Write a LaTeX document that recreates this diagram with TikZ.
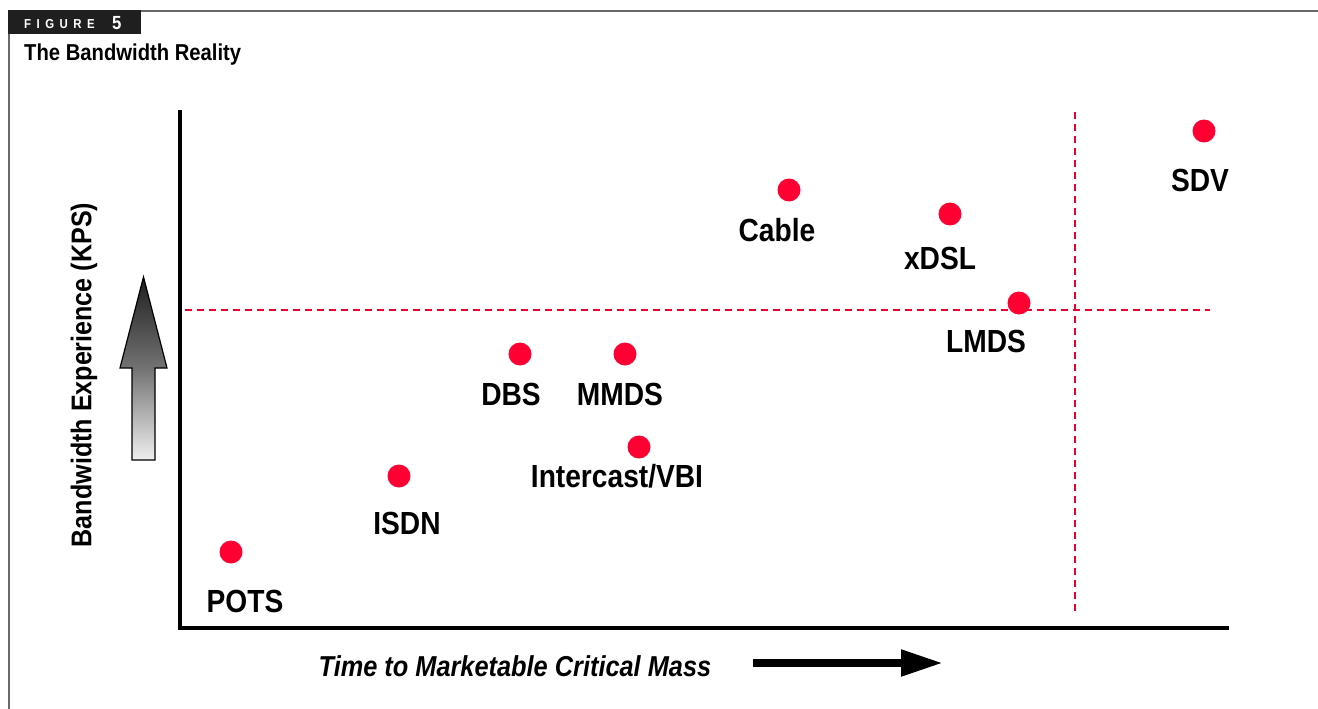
\documentclass[tikz,border=0pt]{standalone}
\usepackage{fontspec}
\setmainfont{Liberation Sans}[FakeStretch=0.88]
\usetikzlibrary{arrows.meta}
\definecolor{dotred}{RGB}{255,0,51}
\definecolor{dashred}{RGB}{235,0,46}
\definecolor{framegray}{RGB}{105,105,105}
\tikzset{
  dot/.style={circle, fill=dotred, draw=none, minimum size=23pt, inner sep=0pt},
  tag/.style={font=\fontsize{32}{32}\selectfont\bfseries, inner sep=0pt, anchor=base},
  axisline/.style={line width=4pt, line cap=rect},
  guide/.style={draw=dashred, line width=1.8pt, dash pattern=on 7pt off 5pt},
}
\begin{document}
\begin{tikzpicture}[x=1pt, y=-1pt]
\useasboundingbox (0,0) rectangle (1318,709);
\fill[white] (0,0) rectangle (1318,709);

% frame and caption tab
\draw[framegray, line width=2pt] (141,11) -- (1318,11);
\draw[framegray, line width=2pt] (9,34) -- (9,709);
\fill[black!88] (8,10) rectangle (141,34);
\node[anchor=base west, inner sep=0pt, text=white, font=\fontsize{13}{13}\selectfont\bfseries\addfontfeatures{LetterSpace=42}]
  (figword) at (24,29) {FIGURE};
\node[anchor=base west, inner sep=0pt, text=white, font=\fontsize{19}{19}\selectfont\bfseries]
  (fignum) at (112,30) {5};
\node[anchor=base west, inner sep=0pt, font=\fontsize{23}{23}\selectfont\bfseries]
  (title) at (24,61) {The Bandwidth Reality};

% axes
\coordinate (top) at (180,112);
\coordinate (origin) at (180,628);
\coordinate (right) at (1227,628);
\draw[axisline] (top) -- (origin) -- (right);

% guide lines
\coordinate (hl) at (185,310);
\coordinate (hr) at (1210,310);
\coordinate (vt) at (1075,112);
\coordinate (vb) at (1075,614);
\draw[guide] (hl) -- (hr);
\draw[guide] (vt) -- (vb);

% axis titles
\node[rotate=90, inner sep=0pt, font=\fontsize{28.5}{28.5}\selectfont\bfseries] (ylab) at (84,375) {Bandwidth Experience (KPS)};
\node[inner sep=0pt, anchor=base, font=\fontsize{28.8}{28.8}\selectfont\bfseries\itshape] (xlab) at (515,676) {Time to Marketable Critical Mass};

% shaded upward arrow
\draw[line width=1.2pt, top color=black!88, bottom color=black!6, middle color=black!55]
  (143.5,277) -- (167,368) -- (155,368) -- (155,460) -- (132,460) -- (132,368) -- (120,368) -- cycle;

% time arrow
\coordinate (ta) at (753,663);
\coordinate (tb) at (943,663);
\draw[line width=8pt, -{Triangle[length=42pt, width=25pt]}] (ta) -- (tb);

% technologies
\node[dot] (pots) at (231,552) {};
\node[dot] (isdn) at (399,476) {};
\node[dot] (dbs) at (520,354) {};
\node[dot] (mmds) at (625,354) {};
\node[dot] (vbi) at (639,447) {};
\node[dot] (cable) at (789,190) {};
\node[dot] (xdsl) at (950,214) {};
\node[dot] (lmds) at (1019,303) {};
\node[dot] (sdv) at (1204,131) {};

\node[tag] (potsl) at (245,612) {POTS};
\node[tag] (isdnl) at (407,534) {ISDN};
\node[tag] (dbsl) at (511,405) {DBS};
\node[tag] (mmdsl) at (620,405) {MMDS};
\node[tag] (vbil) at (617,487) {Intercast/VBI};
\node[tag] (cablel) at (777,241) {Cable};
\node[tag] (xdsll) at (940,269) {xDSL};
\node[tag] (lmdsl) at (986,352) {LMDS};
\node[tag] (sdvl) at (1200,191) {SDV};
\end{tikzpicture}
\end{document}
